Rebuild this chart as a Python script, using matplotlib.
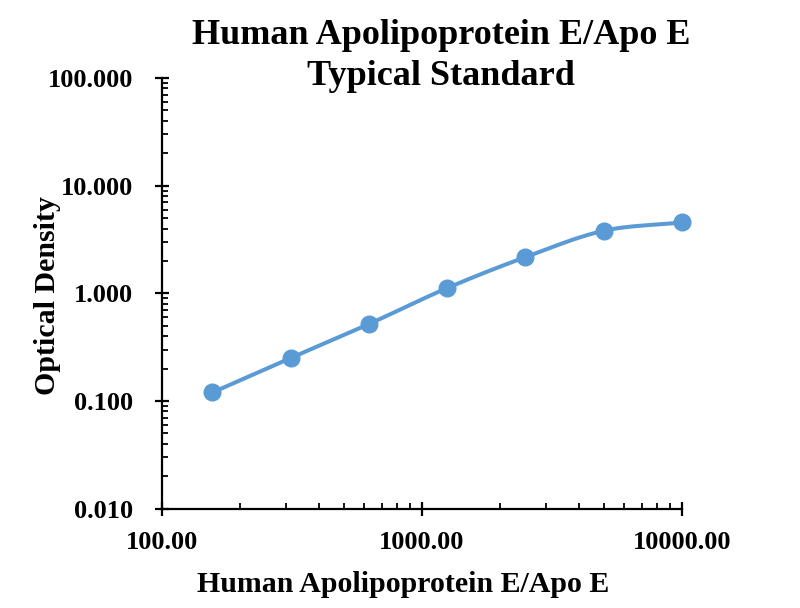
import matplotlib
matplotlib.use("Agg")
import matplotlib.pyplot as plt
import numpy as np
from matplotlib.ticker import LogLocator, FixedFormatter, FixedLocator

# standard curve data
conc = [156.25, 312.5, 625, 1250, 2500, 5000, 10000]
od = [0.120, 0.251, 0.519, 1.12, 2.17, 3.81, 4.55]

xticks = [100, 1000, 10000]
xlabels = ["100.00", "1000.00", "10000.00"]
yticks = [0.01, 0.1, 1, 10, 100]
ylabels = ["0.010", "0.100", "1.000", "10.000", "100.000"]

blue = "#5B9BD5"
plt.rcParams["font.family"] = ["Liberation Serif", "DejaVu Serif"]
plt.rcParams["font.weight"] = "bold"


def smooth(x, y, n=30):
    # catmull-rom through the points in log space (like Excel's smoothed line)
    lx = np.log10(x)
    ly = np.log10(y)
    px = np.concatenate([[2 * lx[0] - lx[1]], lx, [2 * lx[-1] - lx[-2]]])
    py = np.concatenate([[2 * ly[0] - ly[1]], ly, [2 * ly[-1] - ly[-2]]])
    xs, ys = [], []
    t = np.linspace(0, 1, n)
    for i in range(1, len(px) - 2):
        for p, out in ((px, xs), (py, ys)):
            p0, p1, p2, p3 = p[i - 1], p[i], p[i + 1], p[i + 2]
            out.extend(0.5 * (2 * p1 + (-p0 + p2) * t
                              + (2 * p0 - 5 * p1 + 4 * p2 - p3) * t ** 2
                              + (-p0 + 3 * p1 - 3 * p2 + p3) * t ** 3))
    return 10 ** np.array(xs), 10 ** np.array(ys)


fig = plt.figure(figsize=(8, 6.08), dpi=100)
ax = fig.add_axes([162 / 800, 1 - 508.7 / 608, (682 - 162) / 800, (508.7 - 78) / 608])

sx, sy = smooth(conc, od)
ax.plot(sx, sy, color=blue, lw=2.9, solid_capstyle="round", zorder=2)
ax.plot(conc, od, "o", color=blue, ms=12, zorder=3, clip_on=False)

ax.set_xscale("log")
ax.set_yscale("log")
ax.set_xlim(100, 10000)
ax.set_ylim(0.01, 100)

ax.xaxis.set_major_locator(FixedLocator(xticks))
ax.xaxis.set_major_formatter(FixedFormatter(xlabels))
ax.yaxis.set_major_locator(FixedLocator(yticks))
ax.yaxis.set_major_formatter(FixedFormatter(ylabels))
ax.xaxis.set_minor_locator(LogLocator(base=10, subs=np.arange(2, 10)))
ax.yaxis.set_minor_locator(LogLocator(base=10, subs=np.arange(2, 10)))
ax.xaxis.set_minor_formatter(FixedFormatter([]))
ax.yaxis.set_minor_formatter(FixedFormatter([]))

for s in ("top", "right"):
    ax.spines[s].set_visible(False)
for s in ("left", "bottom"):
    ax.spines[s].set_linewidth(1.6)

ax.tick_params(which="major", direction="inout", length=10, width=1.6,
               labelsize=19)
ax.tick_params(axis="y", which="major", pad=16)
ax.tick_params(axis="x", which="major", pad=11)
ax.tick_params(which="minor", direction="in", length=4, width=1.3)
for lab in ax.get_xticklabels() + ax.get_yticklabels():
    lab.set_fontweight("bold")

ax.set_xlabel("Human Apolipoprotein E/Apo E", fontsize=21.5, fontweight="bold", va="center")
ax.xaxis.set_label_coords((403 - 162) / 520, (508.7 - 585) / 430.7)
ax.set_ylabel("Optical Density", fontsize=21.5, fontweight="bold", va="center")
ax.yaxis.set_label_coords((48 - 162) / 520, (508.7 - 296) / 430.7)
fig.text(441 / 800, 1 - 56 / 608, "Human Apolipoprotein E/Apo E\nTypical Standard",
         ha="center", va="center", fontsize=26, fontweight="bold", linespacing=1.3)

fig.savefig("out.png", dpi=100)
